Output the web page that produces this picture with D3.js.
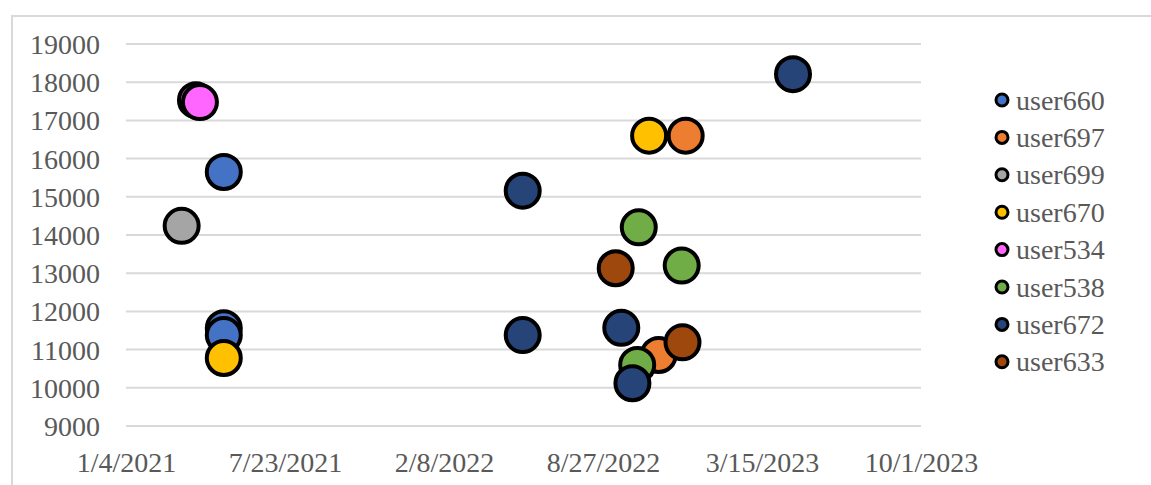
<!DOCTYPE html>
<html>
<head>
<meta charset="utf-8">
<script src="https://cdn.jsdelivr.net/npm/d3@7"></script>
<style>
  html, body { margin: 0; padding: 0; background: #ffffff; }
  svg { display: block; }
</style>
</head>
<body>
<svg id="chart" width="1151" height="485"></svg>
<script>
// Series definitions (draw order = legend order)
const seriesNames  = ["user660", "user697", "user699", "user670", "user534", "user538", "user672", "user633"];
const seriesColors = ["#4472C4", "#ED7D31", "#A5A5A5", "#FFC000", "#FF66FF", "#70AD47", "#264478", "#9E480E"];

// Observations: which series, when, and the value
const pointSeries = [
  "user660", "user660", "user660",
  "user697", "user697",
  "user699",
  "user670", "user670",
  "user534", "user534",
  "user538", "user538", "user538",
  "user672", "user672", "user672", "user672", "user672",
  "user633", "user633"
];
const pointDates = [
  "2021-05-07", "2021-05-07", "2021-05-07",
  "2022-12-09", "2022-11-05",
  "2021-03-15",
  "2021-05-07", "2022-10-24",
  "2021-04-02", "2021-04-07",
  "2022-10-11", "2022-12-04", "2022-10-09",
  "2022-05-18", "2022-05-18", "2022-09-19", "2022-10-03", "2023-04-23",
  "2022-09-12", "2022-12-05"
];
const pointValues = [
  15650, 11560, 11380,
  16600, 10860,
  14240,
  10780, 16600,
  17530, 17480,
  14200, 13200, 10600,
  15160, 11380, 11570, 10120, 18210,
  13130, 11190
];

// Axis ticks
const xTickDates  = ["2021-01-04", "2021-07-23", "2022-02-08", "2022-08-27", "2023-03-15", "2023-10-01"];
const yTickValues = [9000, 10000, 11000, 12000, 13000, 14000, 15000, 16000, 17000, 18000, 19000];

const FONT = "'Liberation Serif', 'Times New Roman', serif";
const TEXT_COLOR = "#595959";

const parse = d3.utcParse("%Y-%m-%d");
const fmtDate = d => `${d.getUTCMonth() + 1}/${d.getUTCDate()}/${d.getUTCFullYear()}`;

const svg = d3.select("#chart");

// Outer chart frame (light grey, partly off-canvas)
svg.append("path")
  .attr("d", "M12,520 V16 H1170")
  .attr("fill", "none")
  .attr("stroke", "#d9d9d9")
  .attr("stroke-width", 2);

const plot = { left: 126, right: 921, top: 44, bottom: 426 };

const x = d3.scaleUtc()
  .domain([parse(xTickDates[0]), parse(xTickDates[xTickDates.length - 1])])
  .range([plot.left, plot.right]);

const y = d3.scaleLinear()
  .domain([9000, 19000])
  .range([plot.bottom, plot.top]);

// Horizontal gridlines
svg.append("g")
  .selectAll("line")
  .data(yTickValues)
  .join("line")
  .attr("x1", plot.left)
  .attr("x2", plot.right)
  .attr("y1", d => y(d))
  .attr("y2", d => y(d))
  .attr("stroke", "#d9d9d9")
  .attr("stroke-width", 2);

function styleText(sel) {
  sel.style("font-family", FONT)
     .style("font-size", "28px")
     .style("fill", TEXT_COLOR);
}

// Y axis labels
const yAxis = d3.axisLeft(y).tickValues(yTickValues).tickSize(0).tickPadding(0).tickFormat(d3.format("d"));
const gy = svg.append("g").attr("transform", "translate(100,0)").call(yAxis);
gy.select(".domain").remove();
gy.selectAll("text").call(styleText).attr("dy", "0.34em");

// X axis labels
const xAxis = d3.axisBottom(x).tickValues(xTickDates.map(parse)).tickSize(0).tickPadding(0).tickFormat(fmtDate);
const gx = svg.append("g").attr("transform", `translate(0,${plot.bottom})`).call(xAxis);
gx.select(".domain").remove();
gx.selectAll("text").call(styleText).attr("dy", "0").attr("y", 46);

// Scatter markers, drawn series by series
const color = d3.scaleOrdinal().domain(seriesNames).range(seriesColors);
const points = pointSeries.map((s, i) => ({ s, d: parse(pointDates[i]), v: pointValues[i], idx: i }));
points.sort((a, b) => d3.ascending(seriesNames.indexOf(a.s), seriesNames.indexOf(b.s)) || d3.ascending(a.idx, b.idx));

svg.append("g")
  .selectAll("circle")
  .data(points)
  .join("circle")
  .attr("cx", p => x(p.d))
  .attr("cy", p => y(p.v))
  .attr("r", 17)
  .attr("fill", p => color(p.s))
  .attr("stroke", "#000")
  .attr("stroke-width", 4);

// Legend
const legend = svg.append("g").attr("transform", "translate(1002,100)");
const rows = legend.selectAll("g")
  .data(seriesNames)
  .join("g")
  .attr("transform", (d, i) => `translate(0,${i * 37.4})`);
rows.append("circle")
  .attr("r", 6)
  .attr("fill", d => color(d))
  .attr("stroke", "#000")
  .attr("stroke-width", 3);
rows.append("text")
  .attr("x", 14)
  .attr("dy", "0.34em")
  .call(styleText)
  .text(d => d);
</script>
</body>
</html>
